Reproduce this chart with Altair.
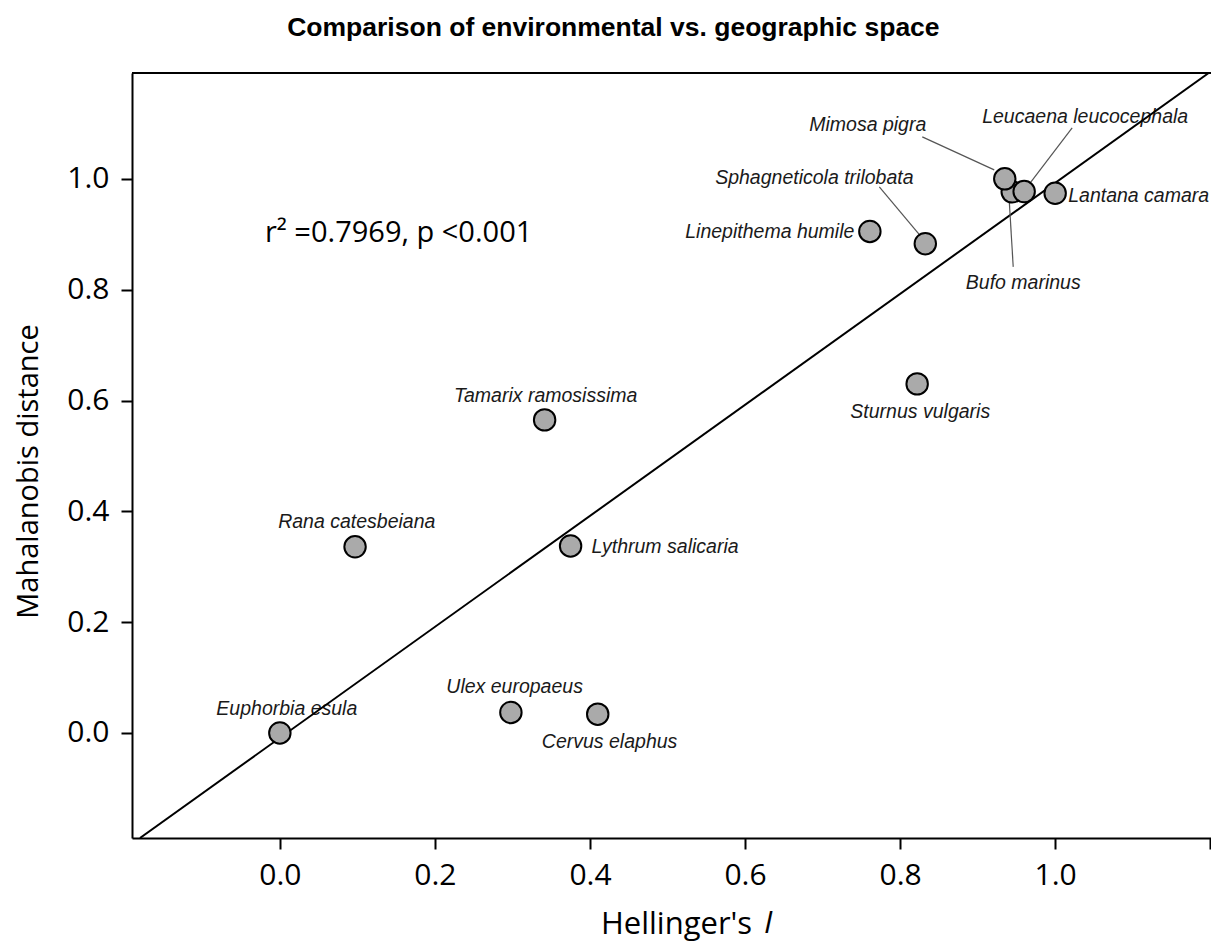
import altair as alt
import pandas as pd

# ---- data ----
species = ["Euphorbia esula", "Rana catesbeiana", "Ulex europaeus", "Cervus elaphus",
           "Tamarix ramosissima", "Lythrum salicaria", "Sturnus vulgaris",
           "Linepithema humile", "Sphagneticola trilobata", "Bufo marinus",
           "Leucaena leucocephala", "Mimosa pigra", "Lantana camara"]
hellinger = [0.0, 0.097, 0.298, 0.410, 0.3415, 0.375, 0.822,
             0.761, 0.8325, 0.9446, 0.960, 0.935, 1.0]
mahalanobis = [0.0, 0.336, 0.037, 0.034, 0.565, 0.3375, 0.630,
               0.905, 0.883, 0.9765, 0.977, 1.0, 0.974]

label_x = [0.009, 0.0992, 0.3028, 0.4253, 0.3428, 0.402, 0.826,
           0.741, 0.6894, 0.9588, 1.0387, 0.8338, 1.0168]
label_y = [0.0433, 0.3809, 0.083, -0.0162, 0.6083, 0.3357, 0.5794,
           0.9043, 1.0018, 0.8123, 1.1119, 1.0975, 0.9693]
label_align = ["center", "center", "center", "center", "center", "left", "center",
               "right", "center", "center", "center", "right", "left"]

leader_species = ["Mimosa pigra", "Leucaena leucocephala", "Sphagneticola trilobata", "Bufo marinus"]
leader_x1 = [0.8286, 1.0219, 0.7732, 0.9459]
leader_y1 = [1.0758, 1.0921, 0.9856, 0.8412]
leader_x2 = [0.9214, 0.9639, 0.8273, 0.9407]
leader_y2 = [1.0162, 0.9856, 0.8953, 0.9621]

fit_x = [-0.1804, 1.198]
fit_y = [-0.1895, 1.191]

x_ticks = [0.0, 0.2, 0.4, 0.6, 0.8, 1.0, 1.2]
y_ticks = [0.0, 0.2, 0.4, 0.6, 0.8, 1.0]

stat_text = ["r\u00b2 =0.7969, p <0.001"]
stat_x = [-0.0193]
stat_y = [0.9025]

title_text = "Comparison of environmental vs. geographic space"
x_title = "Hellinger's"
x_title_italic = ["I"]
y_title = "Mahalanobis distance"

# ---- tables ----
points = pd.DataFrame({"species": species, "x": hellinger, "y": mahalanobis})
labels = pd.DataFrame({"species": species, "lx": label_x, "ly": label_y, "align": label_align})
leaders = pd.DataFrame({"species": leader_species, "x1": leader_x1, "y1": leader_y1,
                        "x2": leader_x2, "y2": leader_y2})
fit = pd.DataFrame({"x": fit_x, "y": fit_y})
stat = pd.DataFrame({"t": stat_text, "x": stat_x, "y": stat_y})

W, H = 1079, 765
xs = alt.Scale(domain=[-0.1907, 1.201], nice=False, zero=False)
ys = alt.Scale(domain=[-0.1895, 1.191], nice=False, zero=False)

tick_font = "Open Sans"
x_axis = alt.Axis(values=x_ticks, format=".1f", grid=False,
                  labelExpr="datum.value > 1.1 ? '' : datum.label",
                  labelFont=tick_font, labelFontSize=30, labelColor="black",
                  labelPadding=11, tickSize=11, tickWidth=2, tickColor="black",
                  domainColor="black", domainWidth=2,
                  title=x_title, titleFont=tick_font, titleFontSize=31,
                  titleFontWeight="normal", titleColor="black",
                  titleX=544, titleY=95, titleBaseline="alphabetic", titleAlign="center")
y_axis = alt.Axis(values=y_ticks, format=".1f", grid=False,
                  labelFont=tick_font, labelFontSize=30, labelColor="black",
                  labelPadding=12, tickSize=11, tickWidth=2, tickColor="black",
                  domainColor="black", domainWidth=2,
                  title=y_title, titleFont=tick_font, titleFontSize=29,
                  titleFontWeight="normal", titleColor="black", titlePadding=23,
                  titleY=398)

# label layers by alignment
text_layers = []
for a in ["left", "center", "right"]:
    text_layers.append(
        alt.Chart(labels).transform_filter(alt.datum.align == a)
        .mark_text(align=a, baseline="middle", font="Liberation Sans",
                   fontStyle="italic", fontSize=19.5, color="#1a1a1a")
        .encode(x=alt.X("lx:Q", scale=xs, axis=x_axis),
                y=alt.Y("ly:Q", scale=ys, axis=y_axis),
                text="species:N")
    )

fit_line = alt.Chart(fit).mark_line(color="black", strokeWidth=2, clip=True).encode(
    x=alt.X("x:Q", scale=xs), y=alt.Y("y:Q", scale=ys))

leader_rules = alt.Chart(leaders).mark_rule(color="#555555", strokeWidth=1.2).encode(
    x=alt.X("x1:Q", scale=xs), y=alt.Y("y1:Q", scale=ys), x2="x2:Q", y2="y2:Q")

pts = alt.Chart(points).mark_point(shape="circle", filled=True, size=460, fill="#aaaaaa",
                                   stroke="black", strokeWidth=2, opacity=1).encode(
    x=alt.X("x:Q", scale=xs), y=alt.Y("y:Q", scale=ys))

stat_txt = alt.Chart(stat).mark_text(align="left", baseline="middle", font="Open Sans",
                                     fontSize=29, color="black").encode(
    x=alt.X("x:Q", scale=xs), y=alt.Y("y:Q", scale=ys), text="t:N")

frame = pd.DataFrame({"k": [1]})
top_rule = alt.Chart(frame).mark_rule(color="black", strokeWidth=2).encode(
    x=alt.value(0), x2=alt.value(W), y=alt.value(0))

italic_i = alt.Chart(pd.DataFrame({"t": x_title_italic})).mark_text(
    align="left", baseline="alphabetic", font="Open Sans", fontStyle="italic",
    fontSize=31, color="black").encode(x=alt.value(632), y=alt.value(H + 95), text="t:N")

chart = alt.layer(*text_layers, fit_line, leader_rules, pts, stat_txt, top_rule, italic_i).properties(
    width=W, height=H,
    autosize=alt.AutoSizeParams(type="none"),
    padding={"left": 124, "top": 65, "right": 0, "bottom": 105},
    title=alt.TitleParams(title_text, font="Liberation Sans", fontSize=26.5, fontWeight="bold",
                          color="black", anchor="middle", frame="bounds", offset=31),
).configure_view(stroke=None).configure(background="white")

chart.save("out.html", embed_options={"renderer": "svg", "actions": False})
